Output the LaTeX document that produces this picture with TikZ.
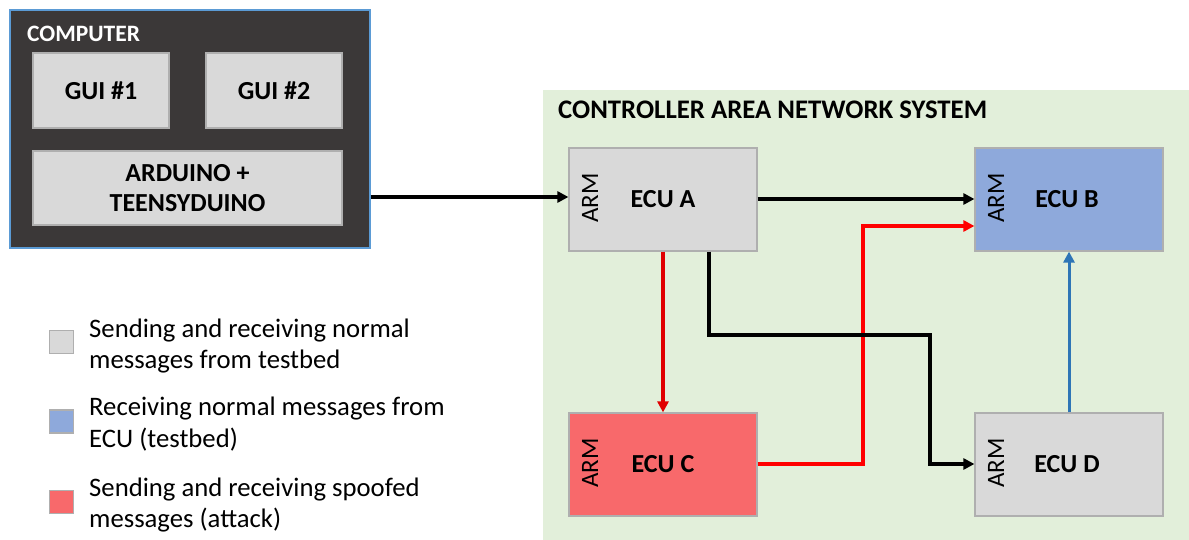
\documentclass[tikz,border=0pt]{standalone}
\usepackage{fontspec}
\setmainfont{Carlito}
\usetikzlibrary{arrows.meta}
\definecolor{darkbg}{HTML}{3B3838}
\definecolor{compborder}{HTML}{5B9BD5}
\definecolor{lgray}{HTML}{D9D9D9}
\definecolor{bgray}{HTML}{AFAFAF}
\definecolor{cangreen}{HTML}{E2EFDA}
\definecolor{ecublue}{HTML}{8EA9DB}
\definecolor{ecured}{HTML}{F8696B}
\definecolor{linered}{HTML}{FF0000}
\definecolor{linered2}{HTML}{E00000}
\definecolor{lineblue}{HTML}{2E75B6}
\tikzset{
  inbox/.style={draw=bgray, line width=1.2pt, fill=lgray, inner sep=0pt, font=\fontsize{26}{30}\selectfont\bfseries, align=center},
  ecubox/.style={draw=bgray, line width=1.2pt, fill=lgray, inner sep=0pt, minimum width=188pt, minimum height=103pt},
  ecutext/.style={font=\fontsize{26}{30}\selectfont\bfseries},
  armtext/.style={font=\fontsize{25}{30}\selectfont, rotate=90},
  conn/.style={line width=3.6pt, -{Triangle[length=11pt,width=11pt]}},
  legsq/.style={draw=bgray, line width=1.2pt, minimum width=24pt, minimum height=23pt, inner sep=0pt},
  legtext/.style={anchor=west, align=left, font=\fontsize{26.7}{31.5}\selectfont, inner sep=0pt}
}
\begin{document}
\begin{tikzpicture}[x=1pt,y=-1pt]
\useasboundingbox (0,0) rectangle (1189,540);
% computer
\node[draw=compborder, line width=1.5pt, fill=darkbg, minimum width=360pt, minimum height=238pt, inner sep=0pt] (comp) at (190,129) {};
\node[anchor=west, text=white, font=\fontsize{23.5}{28}\selectfont\bfseries, inner sep=0pt] (comptitle) at (27,34) {COMPUTER};
\node[inbox, minimum width=136pt, minimum height=75pt] (gui1) at (101,90.5) {GUI \#1};
\node[inbox, minimum width=136pt, minimum height=75pt] (gui2) at (274,90.5) {GUI \#2};
\node[inbox, minimum width=309pt, minimum height=74pt] (ard) at (187.5,188) {ARDUINO +\\TEENSYDUINO};
% CAN system
\node[fill=cangreen, minimum width=646pt, minimum height=450pt, inner sep=0pt] (can) at (866,315) {};
\node[anchor=west, font=\fontsize{26.8}{30}\selectfont\bfseries, inner sep=0pt] (cantitle) at (558,110) {CONTROLLER AREA NETWORK SYSTEM};
% ECUs
\node[ecubox] (ecua) at (663,199.5) {};
\node[ecubox, fill=ecublue] (ecub) at (1069,199.5) {};
\node[ecubox, fill=ecured] (ecuc) at (663,464.5) {};
\node[ecubox] (ecud) at (1069,464.5) {};
\node[armtext] (arma) at (590,198) {ARM};
\node[armtext] (armb) at (996,198) {ARM};
\node[armtext] (armc) at (590,463) {ARM};
\node[armtext] (armd) at (996,463) {ARM};
\node[ecutext] (la) at (663,199) {ECU A};
\node[ecutext] (lb) at (1067,199) {ECU B};
\node[ecutext] (lc) at (663,464) {ECU C};
\node[ecutext] (ld) at (1067,464) {ECU D};
% connectors
\draw[conn] (comp.east |- 0,197) -- (ecua.west |- 0,197);
\draw[conn] (ecua.east |- 0,199) -- (ecub.west |- 0,199);
\draw[conn, linered2] (ecua.south -| 663,0) -- (ecuc.north);
\draw[conn, linered] (ecuc.east |- 0,464) -| (863,226) -- (ecub.west |- 0,226);
\draw[conn] (ecua.south -| 709,0) |- (930,335) |- (ecud.west |- 0,464);
\draw[conn, lineblue, line width=3pt] (ecud.north) -- (ecub.south);
% legend
\node[legsq, fill=lgray] (lg1) at (61.5,342) {};
\node[legsq, fill=ecublue] (lg2) at (61.5,421.5) {};
\node[legsq, fill=ecured] (lg3) at (61.5,502) {};
\node[legtext] (lt1) at (89,346) {Sending and receiving normal\\messages from testbed};
\node[legtext] (lt2) at (89,424) {Receiving normal messages from\\ECU (testbed)};
\node[legtext] (lt3) at (89,505) {Sending and receiving spoofed\\messages (attack)};
\end{tikzpicture}
\end{document}
